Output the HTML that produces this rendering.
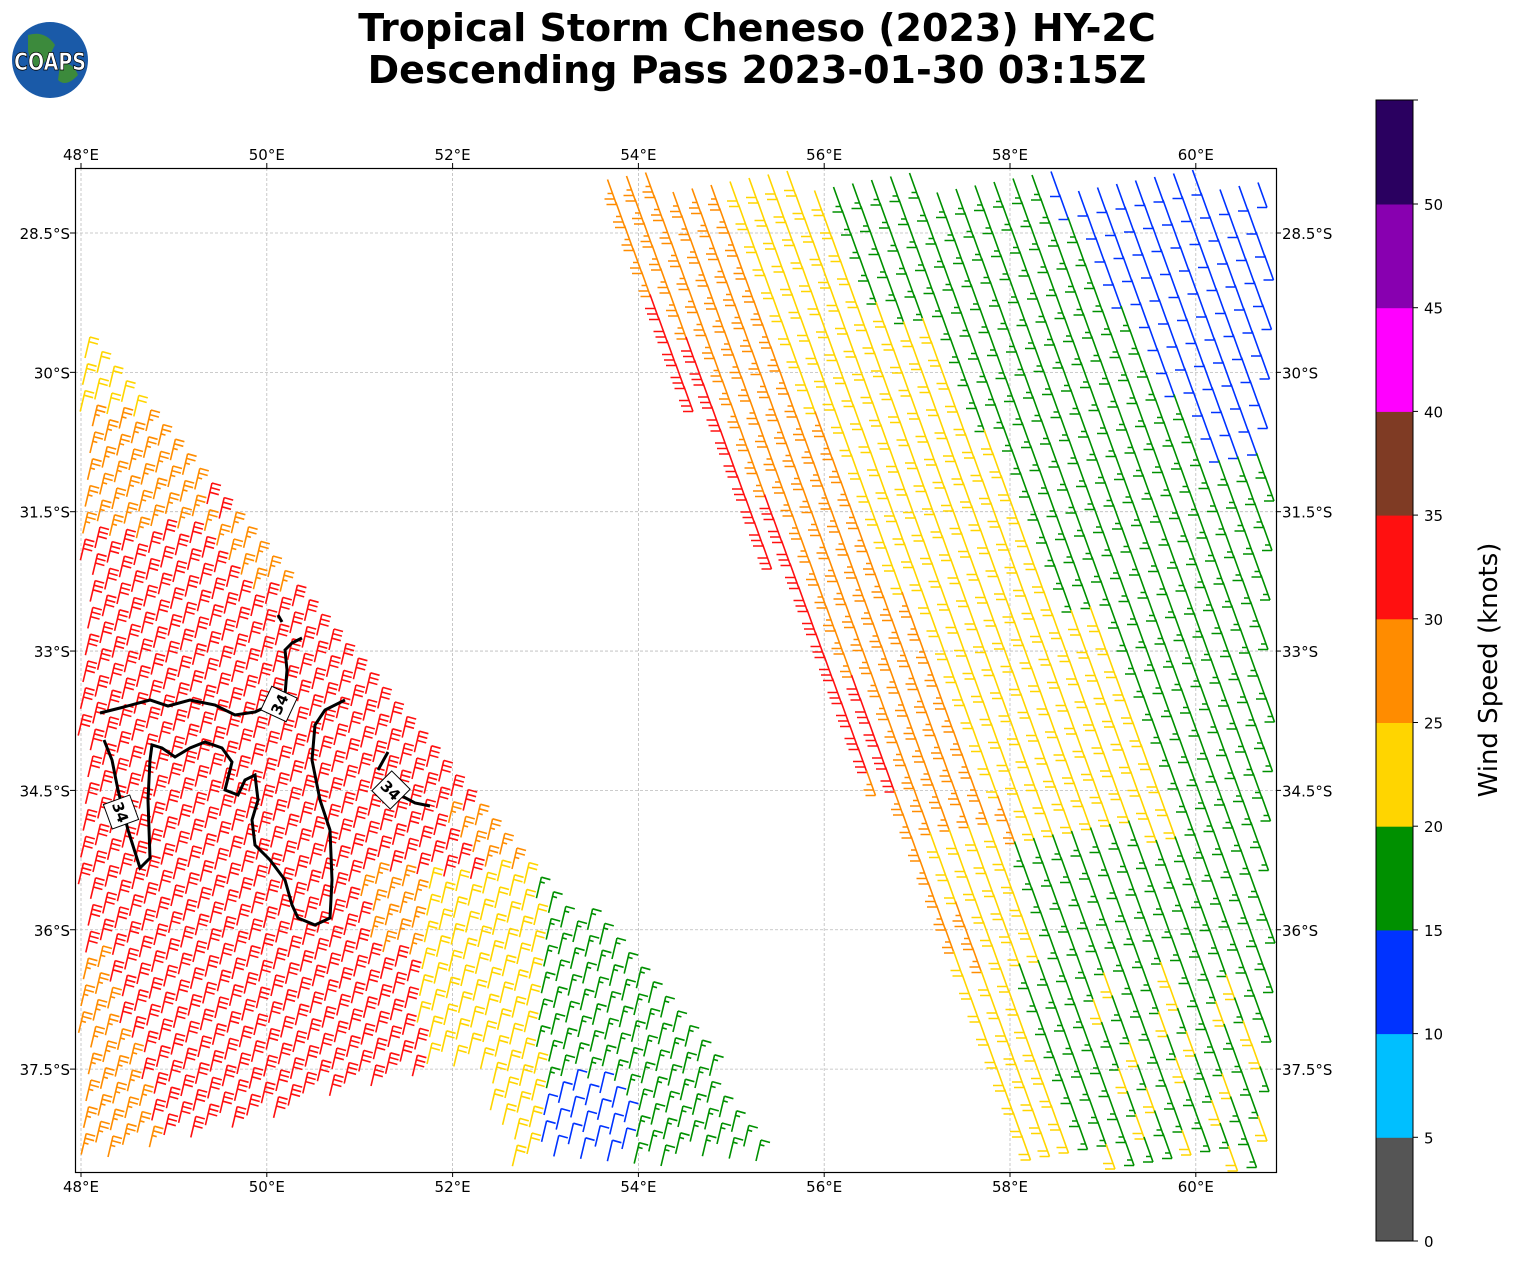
<!DOCTYPE html>
<html><head><meta charset="utf-8"><style>
body{margin:0;background:#fff;width:1513px;height:1264px;overflow:hidden;font-family:"DejaVu Sans","Liberation Sans",sans-serif}
</style></head><body>
<svg id="s" width="1513" height="1264" xmlns="http://www.w3.org/2000/svg" font-family="DejaVu Sans, Liberation Sans, sans-serif">
<text x="757" y="41" font-size="38" font-weight="bold" text-anchor="middle">Tropical Storm Cheneso (2023) HY-2C</text>
<text x="757" y="83" font-size="38" font-weight="bold" text-anchor="middle">Descending Pass 2023-01-30 03:15Z</text>
<circle cx="50" cy="60" r="38" fill="#1a5aa8"/>
<path d="M28,35 Q45,30 55,45 Q48,60 38,70 Q30,62 28,50Z M60,65 Q72,60 78,75 Q66,88 58,80Z" fill="#3c8a3c"/>
<text x="50" y="70" font-size="24" font-weight="bold" fill="#fff" stroke="#000" stroke-width="0.8" text-anchor="middle" textLength="72" lengthAdjust="spacingAndGlyphs">COAPS</text>
<g id="grid" stroke="#bbb" stroke-width="0.8" stroke-dasharray="3,2"></g>
<g id="barbs" fill="none" stroke-width="1.6" stroke-linecap="butt"></g>
<g fill="none" stroke="#000" stroke-width="3">
<path d="M100,713 L120,708 L150,700 L168,706 L190,700 L215,705 L235,715 L255,712 L270,705 L285,695 L287,670 L285,650 L292,643 L302,638"/>
<path d="M278,615 L282,622"/>
<path d="M104,740 L112,760 L118,790 L128,830 L140,868 L150,858 L148,800 L150,760 L152,745 L162,748 L175,757 L190,748 L205,742 L222,748 L232,762 L225,790 L238,795 L245,780 L255,775 L258,800 L252,820 L255,845 L270,860 L285,880 L292,905 L298,918 L315,925 L330,918 L332,880 L330,830 L320,800 L312,760 L315,725 L325,710 L345,700"/>
<path d="M378,770 L388,752 M400,795 L415,803 L430,806"/>
</g>
<g font-size="15" font-weight="bold">
<rect x="266" y="690" width="26" height="28" fill="#fff" stroke="#000" transform="rotate(-65 279 704)"/><text x="279" y="710" text-anchor="middle" transform="rotate(-65 279 704)">34</text>
<rect x="108" y="798" width="26" height="28" fill="#fff" stroke="#000" transform="rotate(70 121 812)"/><text x="121" y="818" text-anchor="middle" transform="rotate(70 121 812)">34</text>
<rect x="378" y="776" width="26" height="28" fill="#fff" stroke="#000" transform="rotate(45 391 790)"/><text x="391" y="796" text-anchor="middle" transform="rotate(45 391 790)">34</text>
</g>
<rect x="75.5" y="168.5" width="1201" height="1004" fill="none" stroke="#000" stroke-width="1.2"/>
<g id="labels" font-size="15"></g>
<g id="cb"></g>
<text transform="translate(1497,670) rotate(-90)" font-size="26" text-anchor="middle">Wind Speed (knots)</text>
</svg>
<script>
var NS="http://www.w3.org/2000/svg";
function el(p,t,a,txt){var e=document.createElementNS(NS,t);for(var k in a)e.setAttribute(k,a[k]);if(txt!=null)e.textContent=txt;p.appendChild(e);return e;}
var g=document.getElementById('grid'),lab=document.getElementById('labels');
function lx(l){return 81+(l-48)*92.9}function ly(l){return 233+(l-28.5)*92.9}
for(var l=48;l<=60;l+=2){var x=lx(l);el(g,'line',{x1:x,y1:168,x2:x,y2:1172});
el(lab,'text',{x:x,y:160,'text-anchor':'middle'},l+'°E');el(lab,'text',{x:x,y:1192,'text-anchor':'middle'},l+'°E');
el(lab,'line',{x1:x,y1:163,x2:x,y2:168,stroke:'#000'});el(lab,'line',{x1:x,y1:1172,x2:x,y2:1177,stroke:'#000'});}
for(var la=28.5;la<=37.6;la+=1.5){var y=ly(la);el(g,'line',{x1:75,y1:y,x2:1276,y2:y});
var s=(la%1?la.toFixed(1):la)+'°S';el(lab,'text',{x:70,y:y+6,'text-anchor':'end'},s);el(lab,'text',{x:1282,y:y+6},s);
el(lab,'line',{x1:70,y1:y,x2:75,y2:y,stroke:'#000'});el(lab,'line',{x1:1276,y1:y,x2:1281,y2:y,stroke:'#000'});}
var cols=['#555555','#00bfff','#0033ff','#009000','#ffd500','#ff8c00','#ff1010','#7f3b24','#ff00ff','#8800b0','#2a0060'];
var cb=document.getElementById('cb');var h=103.7;
for(var i=0;i<11;i++){el(cb,'rect',{x:1376,y:1241-(i+1)*h,width:37,height:h+0.5,fill:cols[i]});}
el(cb,'rect',{x:1376,y:100,width:37,height:1141,fill:'none',stroke:'#000','stroke-width':1});
for(var i=0;i<=10;i++){var y=1241-i*h;el(cb,'line',{x1:1413,y1:y,x2:1418,y2:y,stroke:'#000'});el(cb,'text',{x:1424,y:y+6,'font-size':15},i*5);}
el(cb,'line',{x1:1413,y1:100,x2:1418,y2:100,stroke:'#000'});
function inPoly(x,y,P){var c=false;for(var i=0,j=P.length-1;i<P.length;j=i++){if(((P[i][1]>y)!=(P[j][1]>y))&&(x<(P[j][0]-P[i][0])*(y-P[i][1])/(P[j][1]-P[i][1])+P[i][0]))c=!c;}return c;}
var LP=[[75,340],[460,800],[560,900],[690,1040],[760,1165],[510,1172],[470,1065],[75,1172]];
var RE=[[585,168],[640,300],[760,540],[880,800],[960,1000],[1020,1172]];
var RP=[[585,168],[1276,168],[1276,1172]].concat(RE.slice().reverse());
function L(y){for(var i=0;i<RE.length-1;i++){if(y<=RE[i+1][1])return RE[i][0]+(RE[i+1][0]-RE[i][0])*(y-RE[i][1])/(RE[i+1][1]-RE[i][1]);}return 1020;}
var B=document.getElementById('barbs');
function barb(x,y,sx,sy,kx,ky,n,c){
 var p='M'+x.toFixed(1)+','+y.toFixed(1)+'l'+sx+','+sy;
 for(var i=0;i<n;i+=1){var f=Math.min(1,n-i);var d=1-i*0.22;var px=x+sx*d,py=y+sy*d;
  p+='M'+px.toFixed(1)+','+py.toFixed(1)+'l'+(kx*f).toFixed(1)+','+(ky*f).toFixed(1);}
 el(B,'path',{d:p,stroke:c});}
var NT={3:1.5,4:2,5:2.5,6:3,2:1};
function leftCol(x,y){
 var d=(x-75)*0.77-(y-340)*0.64;
 if(y>880){
  if(x>535){ if(y>1090&&x<625)return 2; return 3;}
  if(x>415)return 4;
  if(x>360&&y<960)return 5;
 }
 if(y>820&&d>-40)return 5;
 if(y<420)return 4;
 if(y<540&&x<200)return 5;
 if(d>-40&&y>520&&y<600)return 5;
 if(x<100+(y-960)*0.3&&y>960)return 5;
 if(y>1150&&x<260)return 5;
 return 6;}
function rightCol(x,y){
 var d=x-L(y);
 if(y<450&&x>1040+(y-170)*0.6)return 2;
 if(d<30&&y>280&&y<770)return 6;
 if(y>820){
  if(d<35&&y<950)return 5;
  if(d<(y<950?100:60))return 4;
  if(x>1090&&x<1260&&y>960&&(Math.floor(x/20)+Math.floor(y/30))%3==0)return 4;
  return 3;}
 if(d<120)return 5;
 var yb=y<300?230:(y<600?280:300);
 if(d<yb)return 4;
 return 3;}
var a=[12.2,14.6],b=[14.6,-12.2];
for(var i=-80;i<120;i++)for(var j=-80;j<80;j++){
 var x=75+i*a[0]+j*b[0],y=168+i*a[1]+j*b[1];
 if(x<78||x>1270||y<172||y>1168)continue;
 if(inPoly(x,y,LP)){var c=leftCol(x,y);barb(x,y,5,-21,9,2.5,NT[c],cols[c]);}
}
var a2=[8.5,23],b2=[19,-3.5];
for(var i=-10;i<70;i++)for(var j=-10;j<60;j++){
 var x=580+i*a2[0]+j*b2[0],y=160+i*a2[1]+j*b2[1];
 if(x<78||x>1266||y<170||y>1146)continue;
 if(inPoly(x,y,RP)){var c=rightCol(x,y);barb(x,y,9,25,-10,0,NT[c],cols[c]);}
}
</script>
</body></html>
